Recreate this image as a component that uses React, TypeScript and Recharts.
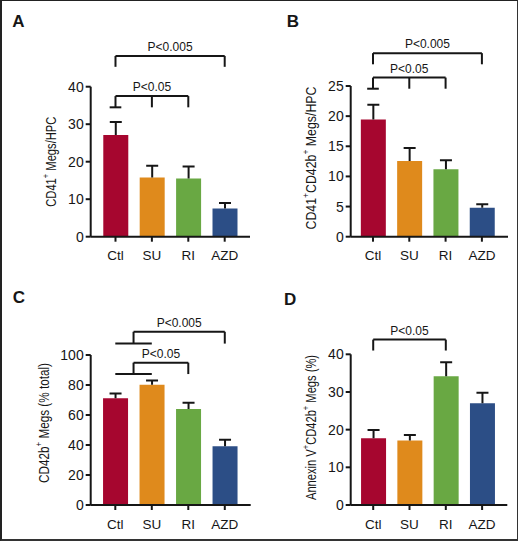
import React from 'react';
import { BarChart, Bar, Cell, XAxis, YAxis, ReferenceLine } from 'recharts';

const GROUPS = ['Ctl', 'SU', 'RI', 'AZD'];
const GROUP_X = [0, 1, 2, 3];
const BAR_COLORS = ['#A6062F', '#DF8A1C', '#69A843', '#2C4E86'];

const A_MEAN = [27.1, 15.8, 15.5, 7.5];
const A_SEM = [3.5, 3.1, 3.2, 1.5];
const A_TICKS = [0, 10, 20, 30, 40];

const B_MEAN = [19.45, 12.55, 11.2, 4.8];
const B_SEM = [2.45, 2.15, 1.5, 0.6];
const B_TICKS = [0, 5, 10, 15, 20, 25];

const C_MEAN = [71.1, 80.2, 64, 39.1];
const C_SEM = [3.3, 2.8, 4.2, 4.4];
const C_TICKS = [0, 20, 40, 60, 80, 100];

const D_MEAN = [17.7, 17.1, 34.2, 27.0];
const D_SEM = [2.2, 1.5, 3.7, 2.8];
const D_TICKS = [0, 10, 20, 30, 40];

type Bracket = {
  label: string;
  top: number;
  foot: number;
  span: [number, number];
  legs: number[];
  caps: [number, number][];
};

const A_BRACKETS: Bracket[] = [
  { label: 'P<0.005', top: 48.2, foot: 45.3, span: [0, 3], legs: [0, 3], caps: [] },
  { label: 'P<0.05', top: 37.5, foot: 34.5, span: [0, 2], legs: [0, 1, 2], caps: [[-0.16, 0.16]] },
];
const B_BRACKETS: Bracket[] = [
  { label: 'P<0.005', top: 30.45, foot: 28.6, span: [0, 3], legs: [0, 3], caps: [] },
  { label: 'P<0.05', top: 26.4, foot: 24.55, span: [0, 2], legs: [0, 1, 2], caps: [[-0.16, 0.16]] },
];
const C_BRACKETS: Bracket[] = [
  { label: 'P<0.005', top: 115.5, foot: 107.6, span: [0.5, 3], legs: [0.5, 3], caps: [[0, 1]] },
  { label: 'P<0.05', top: 94.9, foot: 87.3, span: [0.5, 2], legs: [0.5, 2], caps: [[0, 1]] },
];
const D_BRACKETS: Bracket[] = [
  { label: 'P<0.05', top: 43.9, foot: 41.0, span: [0, 2], legs: [0, 2], caps: [] },
];

const INK = '#161616';
const FONT = "'Liberation Sans', Arial, Helvetica, sans-serif";

function ErrorShape(props: any) {
  const { x, y, width, height } = props;
  const cx = x + width / 2;
  return (
    <g>
      <line x1={cx} x2={cx} y1={y} y2={y + height} stroke={INK} strokeWidth={2} />
      <line x1={cx - 6} x2={cx + 6} y1={y} y2={y} stroke={INK} strokeWidth={2} />
    </g>
  );
}

type TitlePart = [string, boolean];

type PanelProps = {
  letter: string;
  letterPos: [number, number];
  left: number;
  top: number;
  mean: number[];
  sem: number[];
  ticks: number[];
  brackets: Bracket[];
  xDomain: [number, number];
  margin: { top: number; right: number; bottom: number; left: number };
  title: TitlePart[];
  titlePos: [number, number];
  titleLen: number;
};

function Panel(p: PanelProps) {
  const rows = GROUP_X.map((x, i) => ({ x, name: GROUPS[i], mean: p.mean[i], sem: p.sem[i] }));
  const yMax = p.ticks[p.ticks.length - 1];
  const line = { stroke: INK, strokeWidth: 2 };
  return (
    <div style={{ position: 'absolute', left: p.left, top: p.top, width: 260, height: 270 }}>
      <BarChart width={260} height={270} data={rows} margin={p.margin} barSize={25}>
        <XAxis
          dataKey="x"
          type="number"
          domain={p.xDomain}
          ticks={GROUP_X}
          tickFormatter={(v: number) => GROUPS[v]}
          axisLine={line}
          tickLine={line}
          tickSize={5}
          tickMargin={9}
          tick={{ fill: INK, fontSize: 13.5 }}
          allowDataOverflow
        />
        <YAxis
          type="number"
          domain={[0, yMax]}
          ticks={p.ticks}
          axisLine={line}
          tickLine={line}
          tickSize={5}
          tickMargin={2}
          width={60}
          tick={{ fill: INK, fontSize: 14 }}
          allowDataOverflow
        />
        <Bar dataKey="mean" stackId="s" isAnimationActive={false}>
          {rows.map((r, i) => (
            <Cell key={r.name} fill={BAR_COLORS[i]} />
          ))}
        </Bar>
        <Bar dataKey="sem" stackId="s" shape={ErrorShape} isAnimationActive={false} />
        {p.brackets.flatMap((b, bi) => [
          <ReferenceLine
            key={`t${bi}`}
            segment={[{ x: b.span[0], y: b.top }, { x: b.span[1], y: b.top }]}
            ifOverflow="visible"
            stroke={INK}
            strokeWidth={2}
            label={{ value: b.label, position: 'top', offset: 5, fill: INK, fontSize: 12 }}
          />,
          ...b.legs.map((lx, li) => (
            <ReferenceLine
              key={`l${bi}-${li}`}
              segment={[{ x: lx, y: b.top }, { x: lx, y: b.foot }]}
              ifOverflow="visible"
              stroke={INK}
              strokeWidth={2}
            />
          )),
          ...b.caps.map((c, ci) => (
            <ReferenceLine
              key={`c${bi}-${ci}`}
              segment={[{ x: c[0], y: b.foot }, { x: c[1], y: b.foot }]}
              ifOverflow="visible"
              stroke={INK}
              strokeWidth={2}
            />
          )),
        ])}
      </BarChart>
      <svg width={260} height={270} style={{ position: 'absolute', left: 0, top: 0, pointerEvents: 'none' }}>
        <text x={p.letterPos[0]} y={p.letterPos[1]} fontSize={17} fontWeight="bold" fill={INK}>
          {p.letter}
        </text>
        <text
          x={p.titlePos[0]}
          y={p.titlePos[1]}
          transform={`rotate(-90 ${p.titlePos[0]} ${p.titlePos[1]})`}
          textAnchor="middle"
          dominantBaseline="central"
          fontSize={14}
          fill={INK}
          textLength={p.titleLen}
          lengthAdjust="spacingAndGlyphs"
        >
          {p.title.map(([t, sup], i) =>
            sup ? (
              <tspan key={i} baselineShift="super" fontSize={9.5}>
                {t}
              </tspan>
            ) : (
              <tspan key={i}>{t}</tspan>
            ),
          )}
        </text>
      </svg>
    </div>
  );
}

export default function App() {
  return (
    <div
      style={{
        position: 'absolute',
        left: 0,
        top: 0,
        width: 520,
        height: 542,
        background: '#fff',
        fontFamily: FONT,
        overflow: 'hidden',
      }}
    >
      <Panel
        letter="A"
        letterPos={[12.3, 27.3]}
        left={0}
        top={0}
        mean={A_MEAN}
        sem={A_SEM}
        ticks={A_TICKS}
        brackets={A_BRACKETS}
        xDomain={[-0.681, 3.695]}
        margin={{ top: 86.7, right: 10, bottom: 3.3, left: 30.7 }}
        title={[['CD41', false], ['+', true], [' Megs/HPC', false]]}
        titlePos={[51.3, 161.7]}
        titleLen={90}
      />
      <Panel
        letter="B"
        letterPos={[26.7, 27.3]}
        left={260}
        top={0}
        mean={B_MEAN}
        sem={B_SEM}
        ticks={B_TICKS}
        brackets={B_BRACKETS}
        xDomain={[-0.614, 3.719]}
        margin={{ top: 86, right: 12, bottom: 3.3, left: 30.7 }}
        title={[['CD41', false], ['+', true], ['CD42b', false], ['+', true], [' Megs/HPC', false]]}
        titlePos={[50.5, 158]}
        titleLen={143}
      />
      <Panel
        letter="C"
        letterPos={[12.7, 33.3]}
        left={0}
        top={270}
        mean={C_MEAN}
        sem={C_SEM}
        ticks={C_TICKS}
        brackets={C_BRACKETS}
        xDomain={[-0.674, 3.71]}
        margin={{ top: 85, right: 9.3, bottom: 5, left: 30.7 }}
        title={[['CD42b', false], ['+', true], [' Megs (% total)', false]]}
        titlePos={[43.5, 153]}
        titleLen={120}
      />
      <Panel
        letter="D"
        letterPos={[24, 35]}
        left={260}
        top={270}
        mean={D_MEAN}
        sem={D_SEM}
        ticks={D_TICKS}
        brackets={D_BRACKETS}
        xDomain={[-0.62, 3.694]}
        margin={{ top: 84.3, right: 12.7, bottom: 5, left: 30.7 }}
        title={[['Annexin V', false], ['+', true], ['CD42b', false], ['+', true], [' Megs (%)', false]]}
        titlePos={[51, 157.5]}
        titleLen={145}
      />
      <div
        style={{
          position: 'absolute',
          left: 0,
          top: 0,
          width: 515,
          height: 538,
          borderTop: '1.5px solid #222',
          borderLeft: '2px solid #222',
          borderRight: '1.5px solid #333',
          borderBottom: '2px solid #333',
          pointerEvents: 'none',
        }}
      />
    </div>
  );
}
